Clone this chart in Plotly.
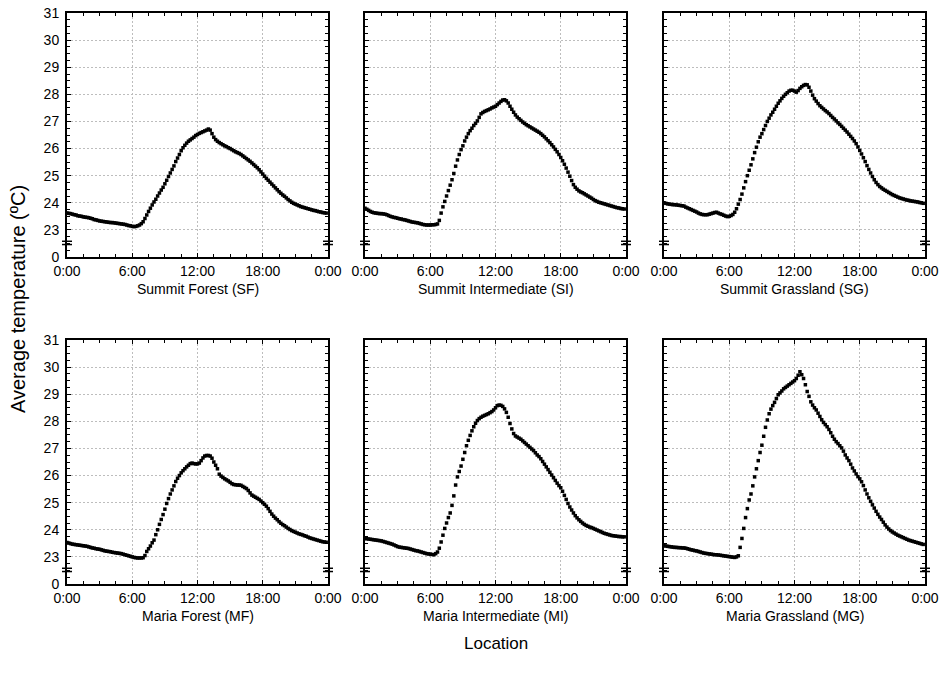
import plotly.graph_objects as go

# Sampling times (hours after midnight, 10-minute logger interval)
TIME_H = [m / 60 for m in range(0, 1440, 10)]

X_TICK_VALS = [0, 6, 12, 18, 24]
X_TICK_TEXT = ["0:00", "6:00", "12:00", "18:00", "0:00"]
Y_TICK_VALS = [22, 23, 24, 25, 26, 27, 28, 29, 30, 31]
Y_TICK_TEXT = ["0", "23", "24", "25", "26", "27", "28", "29", "30", "31"]

SITE_NAMES = [
    "Summit Forest (SF)", "Summit Intermediate (SI)", "Summit Grassland (SG)",
    "Maria Forest (MF)", "Maria Intermediate (MI)", "Maria Grassland (MG)",
]

# Average temperature (°C) per 10-minute slot, one row of six per hour
SF = [
    23.62, 23.61, 23.60, 23.58, 23.56, 23.55,
    23.52, 23.51, 23.50, 23.48, 23.47, 23.46,
    23.45, 23.43, 23.41, 23.38, 23.37, 23.35,
    23.33, 23.32, 23.31, 23.30, 23.29, 23.28,
    23.27, 23.27, 23.26, 23.25, 23.24, 23.23,
    23.22, 23.21, 23.20, 23.18, 23.16, 23.15,
    23.13, 23.12, 23.13, 23.15, 23.18, 23.23,
    23.30, 23.42, 23.55, 23.68, 23.80, 23.92,
    24.03, 24.13, 24.25, 24.36, 24.47, 24.57,
    24.70, 24.83, 24.97, 25.10, 25.23, 25.36,
    25.52, 25.65, 25.78, 25.92, 26.03, 26.12,
    26.20, 26.27, 26.32, 26.37, 26.42, 26.48,
    26.52, 26.56, 26.59, 26.62, 26.65, 26.68,
    26.72, 26.68, 26.55, 26.42, 26.33, 26.27,
    26.22, 26.18, 26.14, 26.10, 26.07, 26.03,
    26.00, 25.96, 25.92, 25.88, 25.85, 25.82,
    25.78, 25.73, 25.68, 25.63, 25.58, 25.53,
    25.47, 25.41, 25.35, 25.29, 25.22, 25.14,
    25.06, 24.98, 24.90, 24.83, 24.76, 24.69,
    24.62, 24.55, 24.48, 24.41, 24.35, 24.29,
    24.24, 24.18, 24.12, 24.07, 24.02, 23.98,
    23.95, 23.92, 23.89, 23.86, 23.84, 23.82,
    23.80, 23.78, 23.76, 23.74, 23.72, 23.71,
    23.69, 23.67, 23.66, 23.64, 23.63, 23.62,
]

SI = [
    23.80, 23.76, 23.72, 23.68, 23.65, 23.63,
    23.62, 23.61, 23.60, 23.60, 23.59, 23.58,
    23.56, 23.53, 23.50, 23.48, 23.46, 23.45,
    23.43, 23.41, 23.40, 23.38, 23.37, 23.35,
    23.33, 23.31, 23.29, 23.28, 23.27, 23.26,
    23.24, 23.22, 23.20, 23.19, 23.18, 23.18,
    23.18, 23.19, 23.19, 23.20, 23.22, 23.35,
    23.62, 23.85, 24.05, 24.25, 24.45, 24.65,
    24.85, 25.08, 25.35, 25.58, 25.78, 25.96,
    26.10, 26.28, 26.42, 26.55, 26.66, 26.75,
    26.85, 26.93, 27.02, 27.15, 27.28, 27.33,
    27.37, 27.40, 27.43, 27.46, 27.50, 27.53,
    27.56, 27.62, 27.68, 27.74, 27.79, 27.80,
    27.76, 27.68, 27.56, 27.45, 27.34, 27.24,
    27.16, 27.10, 27.04, 26.98, 26.93, 26.88,
    26.84, 26.80, 26.76, 26.72, 26.68, 26.64,
    26.60, 26.55, 26.49, 26.43, 26.36, 26.29,
    26.22, 26.14, 26.06, 25.97, 25.88, 25.78,
    25.67, 25.55, 25.42, 25.28, 25.13, 24.98,
    24.82, 24.67, 24.57, 24.50, 24.44, 24.40,
    24.37, 24.33, 24.29, 24.25, 24.21, 24.17,
    24.12, 24.08, 24.05, 24.02, 24.00, 23.98,
    23.96, 23.94, 23.92, 23.90, 23.88, 23.86,
    23.84, 23.82, 23.81, 23.79, 23.78, 23.77,
]

SG = [
    24.00, 23.98, 23.96, 23.95, 23.94, 23.93,
    23.93, 23.92, 23.91, 23.90, 23.89, 23.88,
    23.84, 23.81, 23.78, 23.75, 23.72, 23.69,
    23.66, 23.62, 23.59, 23.57, 23.56, 23.56,
    23.56, 23.58, 23.60, 23.62, 23.64, 23.65,
    23.62, 23.59, 23.57, 23.54, 23.51, 23.49,
    23.50, 23.53, 23.57, 23.65, 23.78, 23.95,
    24.12, 24.32, 24.55, 24.78, 25.00, 25.20,
    25.40, 25.62, 25.85, 26.05, 26.25, 26.42,
    26.55, 26.70, 26.85, 27.00, 27.12, 27.24,
    27.34, 27.45, 27.56, 27.67, 27.76, 27.85,
    27.93, 28.00, 28.06, 28.12, 28.15, 28.15,
    28.12, 28.08, 28.14, 28.22, 28.28, 28.33,
    28.36, 28.35, 28.26, 28.12, 27.97, 27.84,
    27.75, 27.66, 27.58, 27.52, 27.46, 27.40,
    27.35, 27.29, 27.22, 27.15, 27.09, 27.02,
    26.95, 26.89, 26.82, 26.75, 26.68, 26.61,
    26.53, 26.45, 26.37, 26.28, 26.18, 26.06,
    25.93, 25.80, 25.66, 25.52, 25.37, 25.23,
    25.10, 24.97, 24.85, 24.75, 24.67, 24.60,
    24.55, 24.50, 24.46, 24.42, 24.38, 24.34,
    24.30, 24.27, 24.24, 24.21, 24.18, 24.16,
    24.14, 24.12, 24.10, 24.09, 24.07, 24.06,
    24.05, 24.04, 24.03, 24.01, 24.00, 23.98,
]

MF = [
    23.53, 23.51, 23.49, 23.47, 23.46, 23.45,
    23.44, 23.43, 23.42, 23.41, 23.40, 23.39,
    23.37, 23.35, 23.33, 23.32, 23.30, 23.29,
    23.28, 23.26, 23.24, 23.22, 23.21, 23.20,
    23.19, 23.17, 23.16, 23.15, 23.14, 23.13,
    23.12, 23.10, 23.08, 23.06, 23.04, 23.02,
    23.00, 22.98, 22.97, 22.96, 22.96, 22.96,
    22.97, 23.05, 23.20, 23.30, 23.40, 23.52,
    23.62, 23.82, 24.00, 24.20, 24.38, 24.56,
    24.76, 24.97, 25.15, 25.32, 25.47, 25.62,
    25.78, 25.90, 26.00, 26.10, 26.18, 26.25,
    26.32, 26.38, 26.44, 26.46, 26.44, 26.43,
    26.43, 26.46, 26.55, 26.65, 26.72, 26.74,
    26.74, 26.72, 26.64, 26.50, 26.38, 26.25,
    26.05, 25.98, 25.93, 25.88, 25.84, 25.80,
    25.75, 25.70, 25.67, 25.66, 25.65, 25.65,
    25.64, 25.60, 25.56, 25.52, 25.45, 25.36,
    25.28, 25.24, 25.20, 25.16, 25.12, 25.06,
    25.00, 24.94, 24.87, 24.78, 24.68, 24.58,
    24.50, 24.43, 24.37, 24.30, 24.24, 24.19,
    24.15, 24.10, 24.05, 24.01, 23.97, 23.94,
    23.91, 23.88, 23.85, 23.83, 23.81, 23.78,
    23.76, 23.73, 23.70, 23.68, 23.66, 23.64,
    23.62, 23.60, 23.58, 23.56, 23.55, 23.54,
]

MI = [
    23.68, 23.67, 23.66, 23.65, 23.64, 23.63,
    23.62, 23.61, 23.60, 23.59, 23.57, 23.55,
    23.53, 23.51, 23.49, 23.47, 23.44, 23.41,
    23.38, 23.36, 23.35, 23.34, 23.33, 23.32,
    23.31, 23.29, 23.27, 23.25, 23.23, 23.22,
    23.20, 23.18, 23.16, 23.14, 23.12, 23.11,
    23.10, 23.09, 23.08, 23.12, 23.18, 23.32,
    23.55, 23.80, 24.05, 24.25, 24.45, 24.62,
    24.90, 25.25, 25.65, 25.95, 26.15, 26.35,
    26.60, 26.85, 27.10, 27.30, 27.48, 27.65,
    27.80, 27.93, 28.03, 28.10, 28.15, 28.19,
    28.22, 28.25, 28.28, 28.32, 28.36, 28.42,
    28.50, 28.58, 28.60, 28.59, 28.55, 28.46,
    28.33, 28.15, 27.92, 27.72, 27.55, 27.46,
    27.42, 27.38, 27.34, 27.28, 27.22, 27.16,
    27.10, 27.04, 26.98, 26.92, 26.84, 26.76,
    26.70, 26.62, 26.52, 26.42, 26.32, 26.22,
    26.12, 26.02, 25.92, 25.82, 25.72, 25.63,
    25.55, 25.42, 25.27, 25.12, 24.97, 24.84,
    24.73, 24.62, 24.52, 24.44, 24.37, 24.31,
    24.25, 24.20, 24.16, 24.13, 24.10, 24.08,
    24.05, 24.02, 23.99, 23.96, 23.93, 23.90,
    23.87, 23.85, 23.83, 23.81, 23.79, 23.78,
    23.77, 23.76, 23.75, 23.75, 23.74, 23.74,
]

MG = [
    23.42, 23.40, 23.39, 23.38, 23.37, 23.36,
    23.35, 23.35, 23.34, 23.34, 23.33, 23.33,
    23.32, 23.30, 23.28, 23.26, 23.25, 23.23,
    23.22, 23.20, 23.18, 23.16, 23.14, 23.13,
    23.12, 23.11, 23.10, 23.09, 23.08, 23.08,
    23.07, 23.06, 23.05, 23.04, 23.03, 23.02,
    23.01, 23.00, 22.99, 22.98, 23.00, 23.04,
    23.35, 23.68, 24.05, 24.45, 24.78, 25.10,
    25.32, 25.62, 25.95, 26.25, 26.55, 26.85,
    27.12, 27.45, 27.78, 28.05, 28.28, 28.45,
    28.58, 28.70, 28.84, 28.98, 29.05, 29.12,
    29.20, 29.25, 29.30, 29.35, 29.40, 29.45,
    29.50, 29.58, 29.70, 29.83, 29.72, 29.58,
    29.35, 29.10, 28.92, 28.72, 28.60, 28.50,
    28.42, 28.30, 28.18, 28.06, 27.96, 27.88,
    27.80, 27.70, 27.58, 27.45, 27.34, 27.25,
    27.18, 27.10, 27.02, 26.90, 26.76, 26.65,
    26.55, 26.42, 26.28, 26.17, 26.06, 25.96,
    25.88, 25.77, 25.63, 25.47, 25.32, 25.18,
    25.05, 24.92, 24.80, 24.68, 24.57, 24.47,
    24.38, 24.28, 24.18, 24.10, 24.03, 23.97,
    23.92, 23.88, 23.84, 23.80, 23.77, 23.74,
    23.71, 23.68, 23.65, 23.62, 23.60, 23.58,
    23.56, 23.54, 23.52, 23.50, 23.48, 23.46,
]

SERIES = [SF, SI, SG, MF, MI, MG]

W, H = 944, 681
FONT = "Liberation Sans, Arial, sans-serif"
TICK_SIZE = 14
# panel frames in pixels: (left, right) per column, (top, bottom) per row
COLS = [(67, 328), (365, 626), (664, 925)]
ROWS = [(13, 257), (340, 584)]

fig = go.Figure()
layout = dict(
    width=W, height=H, margin=dict(l=0, r=0, t=0, b=0, autoexpand=False),
    paper_bgcolor="white", plot_bgcolor="white", showlegend=False,
    font=dict(family=FONT, color="black", size=TICK_SIZE),
)
shapes, annotations = [], []

for i, (name, vals) in enumerate(zip(SITE_NAMES, SERIES)):
    r, c = divmod(i, 3)
    n = "" if i == 0 else str(i + 1)
    xa, ya = "x" + n, "y" + n
    fig.add_trace(go.Scatter(
        x=TIME_H, y=vals, mode="markers", xaxis=xa, yaxis=ya,
        marker=dict(symbol="square", size=3.5, color="black", line=dict(width=0)),
        hoverinfo="skip",
    ))
    left, right = COLS[c]
    top, bottom = ROWS[r]
    layout["xaxis" + n] = dict(
        domain=[left / W, right / W], anchor=ya, range=[0, 24],
        tickvals=X_TICK_VALS, ticktext=X_TICK_TEXT,
        ticks="inside", ticklen=4, tickwidth=1, tickcolor="black",
        minor=dict(dtick=1.5, tick0=0, ticks="inside", ticklen=3,
                   tickcolor="black", showgrid=False),
        showline=True, linewidth=2, linecolor="black", mirror="ticks",
        showgrid=True, gridcolor="#bdbdbd", gridwidth=1, griddash="2px,2px",
        zeroline=False, automargin=False, ticklabelstandoff=0,
        tickfont=dict(size=TICK_SIZE, family=FONT), fixedrange=True,
    )
    layout["yaxis" + n] = dict(
        domain=[1 - bottom / H, 1 - top / H], anchor=xa, range=[22, 31],
        tickvals=Y_TICK_VALS, ticktext=Y_TICK_TEXT,
        showticklabels=(c == 0),
        ticks="inside", ticklen=4, tickwidth=1, tickcolor="black",
        minor=dict(dtick=0.25, tick0=22, ticks="inside", ticklen=3,
                   tickcolor="black", showgrid=False),
        showline=True, linewidth=2, linecolor="black", mirror="ticks",
        showgrid=True, gridcolor="#bdbdbd", gridwidth=1, griddash="2px,2px",
        zeroline=False, automargin=False, ticklabelstandoff=3,
        tickfont=dict(size=TICK_SIZE, family=FONT), fixedrange=True,
    )
    # axis break marks on the left and right frame edges
    half = 5 / (right - left)
    for edge in (0, 1):
        for yb in (22.46, 22.58):
            shapes.append(dict(
                type="line", xref=xa + " domain", yref=ya,
                x0=edge - half, x1=edge + half, y0=yb, y1=yb,
                line=dict(color="black", width=1.5),
            ))
    annotations.append(dict(
        text=name, xref="paper", yref="paper",
        x=(left + right) / 2 / W, y=1 - (bottom + 32) / H,
        showarrow=False, xanchor="center", yanchor="middle",
        font=dict(size=TICK_SIZE, family=FONT),
    ))

annotations.append(dict(
    text="Location", xref="paper", yref="paper",
    x=496 / W, y=1 - 643 / H, showarrow=False,
    xanchor="center", yanchor="middle", font=dict(size=17, family=FONT),
))
annotations.append(dict(
    text="Average temperature (ºC)", xref="paper", yref="paper",
    x=18 / W, y=1 - 299 / H, showarrow=False, textangle=-90,
    xanchor="center", yanchor="middle", font=dict(size=20, family=FONT),
))

layout["shapes"] = shapes
layout["annotations"] = annotations
fig.update_layout(**layout)
fig.write_html("out.html")
